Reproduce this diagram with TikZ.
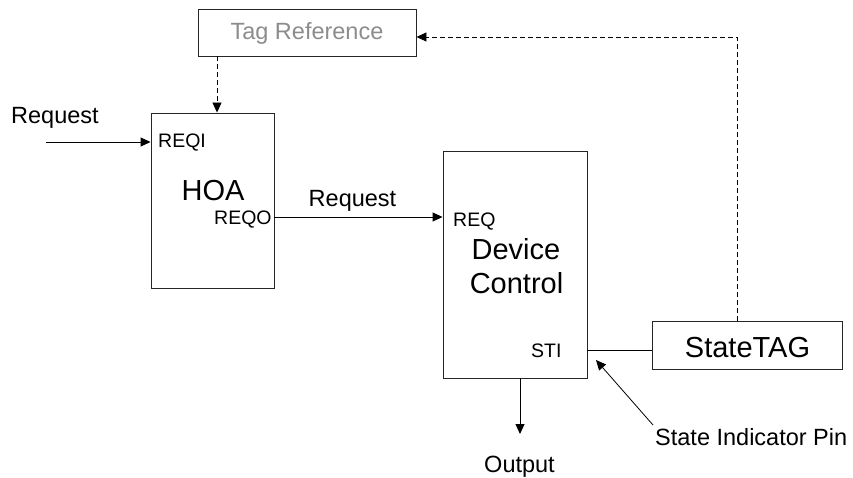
\documentclass[tikz,border=0pt]{standalone}
\usepackage{fontspec}
\setmainfont{Liberation Sans}
\usetikzlibrary{arrows.meta}
\begin{document}
\begin{tikzpicture}[x=1pt,y=-1pt,
  box/.style={draw=black!85,line width=0.9pt,inner sep=0pt,minimum width=#1},
  lbl/.style={inner sep=0pt,font=\fontsize{23.5}{26}\selectfont},
  pin/.style={inner sep=0pt,font=\fontsize{19.5}{22}\selectfont},
  big/.style={inner sep=0pt,font=\fontsize{29}{32}\selectfont},
  conn/.style={line width=0.9pt,-{Triangle[length=10pt,width=9pt]}},
  dconn/.style={conn,dash pattern=on 5pt off 3pt},
  plain/.style={line width=0.9pt}]
\useasboundingbox (0,0) rectangle (853,478);
% boxes
\node[box=218pt,minimum height=47pt] (tagref) at (307,32.5) {};
\node[box=123pt,minimum height=175pt] (hoa) at (212.5,200.5) {};
\node[box=144pt,minimum height=227pt] (dc) at (515,264.5) {};
\node[box=190pt,minimum height=48pt] (stag) at (747,345) {};
% texts
\node[lbl,text=black!45,anchor=base] (tagtxt) at (307,40) {Tag Reference};
\node[lbl,anchor=base west] (reqL) at (11,124) {Request};
\node[pin,anchor=base west] (reqi) at (158,148) {REQI};
\node[big,anchor=base] (hoatxt) at (213,201) {HOA};
\node[pin,anchor=base west] (reqo) at (214,225) {REQO};
\node[lbl,anchor=base] (reqM) at (352.5,207) {Request};
\node[pin,anchor=base west] (req) at (453,226.5) {REQ};
\node[big,anchor=base] (dev) at (516,259) {Device};
\node[big,anchor=base] (ctl) at (516.5,293) {Control};
\node[pin,anchor=base west] (sti) at (531,357.5) {STI};
\node[big,anchor=base] (stagtxt) at (747.5,357.5) {StateTAG};
\node[lbl,anchor=base west] (sip) at (655,445) {State Indicator Pin};
\node[lbl,anchor=base] (out) at (519.5,472.5) {Output};
% coordinates
\coordinate (reqin) at (46,142);
\coordinate (hoaout) at (274,217);
\coordinate (stiy) at (587,350);
\coordinate (tagx) at (217,0);
\coordinate (corner) at (737,37);
\coordinate (outx) at (520,0);
\coordinate (outend) at (520,434);
\coordinate (piptip) at (596,360);
\coordinate (pipstart) at (653,425);
% connectors
\draw[dconn] (tagx |- tagref.south) -- (tagx |- hoa.north);
\draw[conn] (reqin) -- (hoa.west |- reqin);
\draw[conn] (hoa.east |- hoaout) -- (dc.west |- hoaout);
\draw[plain] (dc.east |- stiy) -- (stag.west |- stiy);
\draw[dconn] (corner |- stag.north) -- (corner) -- (tagref.east |- corner);
\draw[conn] (outx |- dc.south) -- (outend);
\draw[conn,line width=0.8pt] (pipstart) -- (piptip);
\end{tikzpicture}
\end{document}
